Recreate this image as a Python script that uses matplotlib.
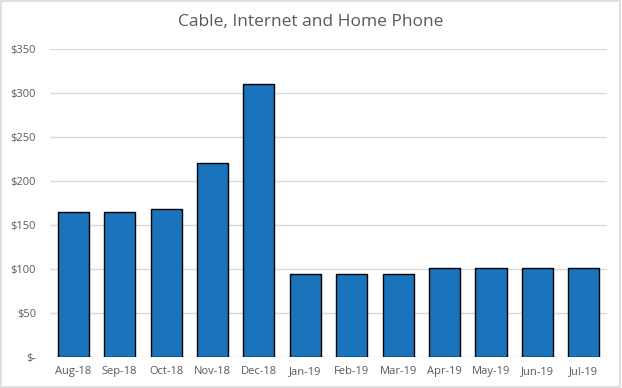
import matplotlib.pyplot as plt
from matplotlib.patches import Rectangle

# Monthly spend, Aug-18 to Jul-19
months = ['Aug-18', 'Sep-18', 'Oct-18', 'Nov-18', 'Dec-18', 'Jan-19',
          'Feb-19', 'Mar-19', 'Apr-19', 'May-19', 'Jun-19', 'Jul-19']
amounts = [165, 165, 169, 221, 311, 95, 95, 95, 101, 101, 101, 101]
yticks = [0, 50, 100, 150, 200, 250, 300, 350]
ytick_labels = ['$-', '$50', '$100', '$150', '$200', '$250', '$300', '$350']

plt.rcParams['font.family'] = ['Open Sans', 'DejaVu Sans']

fig = plt.figure(figsize=(6.22, 3.88), dpi=100)
ax = fig.add_axes([0.0804, 0.079, 0.8956, 0.794])

x = list(range(len(months)))
ax.bar(x, amounts, width=0.67, color='#1a73bb', edgecolor='black', linewidth=1.0, zorder=3)

ax.set_xlim(-0.5, len(months) - 0.5)
ax.set_ylim(0, 350)
ax.set_yticks(yticks)
ax.set_yticklabels(ytick_labels)
ax.set_xticks(x)
ax.set_xticklabels(months)
ax.grid(axis='y', color='#d9d9d9', linewidth=1.0, zorder=0)
for s in ax.spines.values():
    s.set_visible(False)
ax.tick_params(axis='both', length=0, labelsize=8, labelcolor='#595959')
ax.tick_params(axis='x', pad=6)
ax.tick_params(axis='y', pad=10)

fig.suptitle('Cable, Internet and Home Phone', x=0.5, y=0.965, fontsize=12.5, color='#595959')

# light chart-area border
fig.patches.append(Rectangle((0.002, 0.003), 0.995, 0.994, transform=fig.transFigure,
                             fill=False, edgecolor='#d9d9d9', linewidth=1.2))

plt.savefig('out.png', dpi=100)
